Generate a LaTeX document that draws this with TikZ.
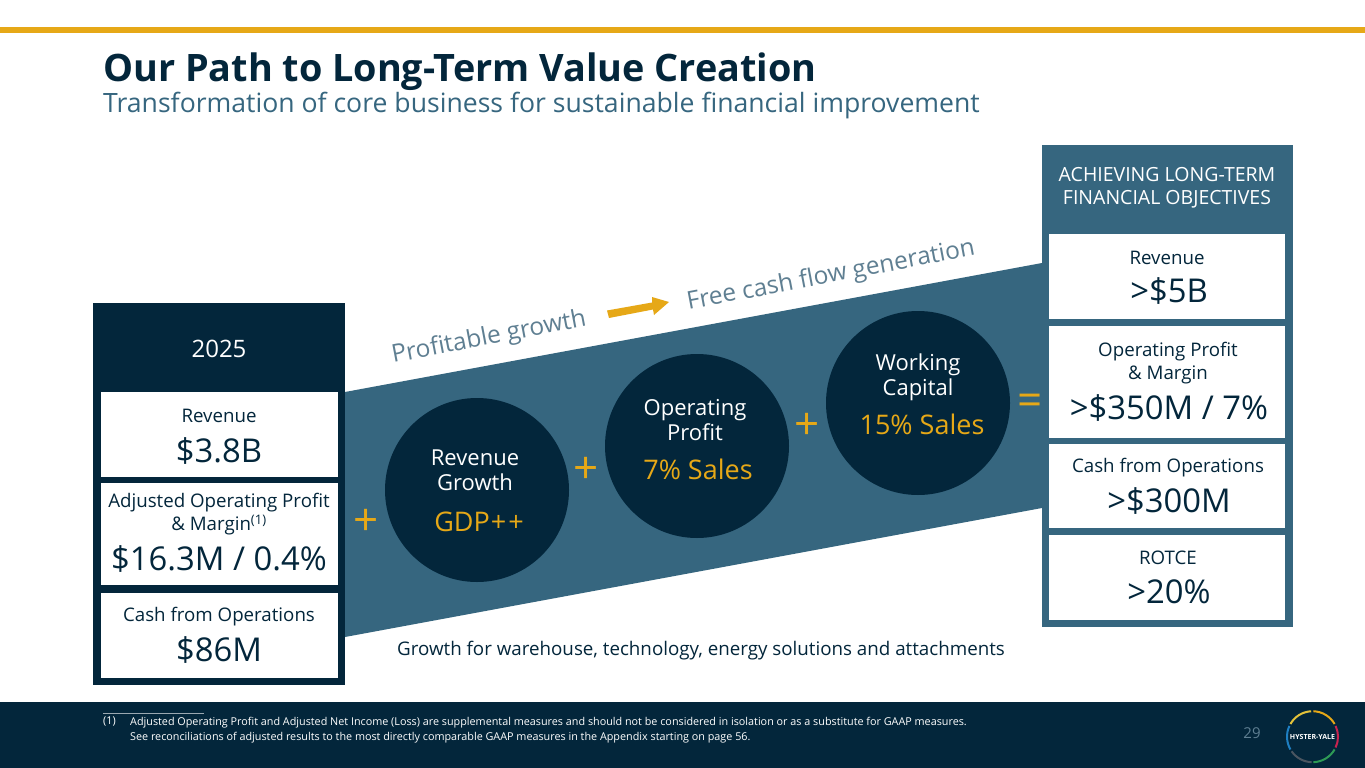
\documentclass[tikz,border=0pt]{standalone}
\usepackage{fontspec}
\setmainfont{Open Sans}
\definecolor{navy}{HTML}{03263B}
\definecolor{band}{HTML}{36667F}
\definecolor{gold}{HTML}{E6A817}
\definecolor{greytxt}{HTML}{5F7F92}
\newcommand{\fsz}[2]{\fontsize{#1}{#2}\selectfont}
\tikzset{
 lab/.style={text=navy,font=\fsz{18.7}{23},align=center,inner sep=0pt},
 val/.style={text=navy,font=\fsz{32.8}{36},inner sep=0pt},
 circ/.style={circle,fill=navy,minimum size=184pt,inner sep=0pt},
 clab/.style={text=white,font=\fsz{22}{25},align=center,inner sep=0pt},
 cval/.style={text=gold,font=\fsz{27}{30},inner sep=0pt},
 plus/.style={text=gold,font=\fsz{44}{46},inner sep=0pt},
 slant/.style={text=greytxt,font=\fsz{24.5}{27},inner sep=0pt,rotate=10.8},
 logoarc/.style={line width=2pt}
}
\begin{document}
\begin{tikzpicture}[x=1pt,y=-1pt]
\useasboundingbox (0,0) rectangle (1365,768);
\fill[white] (0,0) rectangle (1365,768);
\fill[gold] (0,27) rectangle (1365,33);
\node[anchor=west,text=navy,font=\fsz{37.8}{40}\bfseries,inner sep=0pt] (title) at (103,72) {Our Path to Long-Term Value Creation};
\node[anchor=west,text=band,font=\fsz{26.6}{30},inner sep=0pt] (sub) at (103,106) {Transformation of core business for sustainable financial improvement};
% band
\fill[band] (345,392) -- (1042,263) -- (1042,508) -- (345,637) -- cycle;
% left panel
\fill[navy] (93,303) rectangle (345,685);
\node[text=white,font=\fsz{24}{26},inner sep=0pt] (y2025) at (219,349) {2025};
\fill[white] (101,392) rectangle (338,477);
\fill[white] (101,483) rectangle (338,585);
\fill[white] (101,593) rectangle (338,678);
\node[lab] (l1a) at (219,416) {Revenue};
\node[val] (l1b) at (219,451) {\$3.8B};
\node[lab] (l2a) at (219,514) {Adjusted Operating Profit\\\& Margin\textsuperscript{(1)}};
\node[val] (l2b) at (219,559) {\$16.3M / 0.4\%};
\node[lab] (l3a) at (219,617) {Cash from Operations};
\node[val] (l3b) at (219,650) {\$86M};
% right panel
\fill[band] (1042,145) rectangle (1293,627);
\node[text=white,font=\fsz{19.5}{23},align=center,inner sep=0pt] (hdr) at (1167,188) {ACHIEVING LONG-TERM\\FINANCIAL OBJECTIVES};
\fill[white] (1049,234) rectangle (1285,319);
\fill[white] (1049,326) rectangle (1285,438);
\fill[white] (1049,444) rectangle (1285,528);
\fill[white] (1049,535) rectangle (1285,620);
\node[lab] (r1a) at (1167,258) {Revenue};
\node[val] (r1b) at (1169,291) {>\$5B};
\node[lab] (r2a) at (1168,363) {Operating Profit\\\& Margin};
\node[val] (r2b) at (1169,408) {>\$350M / 7\%};
\node[lab] (r3a) at (1168,468) {Cash from Operations};
\node[val] (r3b) at (1169,501) {>\$300M};
\node[lab] (r4a) at (1168,558) {ROTCE};
\node[val] (r4b) at (1169,592) {>20\%};
% circles
\node[circ] (c1) at (477,490) {};
\node[circ] (c2) at (697,446) {};
\node[circ] (c3) at (918,403) {};
\node[clab] (c1a) at (475,470) {Revenue\\Growth};
\node[cval] (c1b) at (479,522) {GDP{\kern1pt}+{\kern2pt}+};
\node[clab] (c2a) at (695,420) {Operating\\Profit};
\node[cval] (c2b) at (698,469) {7\% Sales};
\node[clab] (c3a) at (918,377) {Working\\Capital};
\node[cval] (c3b) at (922,424) {15\% Sales};
\node[plus] (p0) at (366,522) {+};
\node[plus] (p1) at (586,470) {+};
\node[plus] (p2) at (807,426) {+};
\node[plus] (eq) at (1030,405) {=};
% slanted
\node[slant] (s1) at (489,338) {Profitable growth};
\node[slant] (s2) at (831,276) {Free cash flow generation};
\fill[gold] (607,310.5) -- (652,302.5) -- (652,297) -- (669,302) -- (654,315) -- (653,309.5) -- (609,318) -- cycle;
\node[text=navy,font=\fsz{18.75}{21},inner sep=0pt] (grow) at (701,651) {Growth for warehouse, technology, energy solutions and attachments};
% footer
\fill[navy] (0,702) rectangle (1365,768);
\draw[white!60!navy,line width=0.5pt] (103,713) -- (204,713);
\node[anchor=north west,text=white,font=\fsz{10.8}{15},inner sep=0pt] (fn0) at (103,717) {(1)};
\node[anchor=north west,text=white,font=\fsz{10.8}{15},align=left,inner sep=0pt] (fn) at (130,717) {Adjusted Operating Profit and Adjusted Net Income (Loss) are supplemental measures and should not be considered in isolation or as a substitute for GAAP measures.\\See reconciliations of adjusted results to the most directly comparable GAAP measures in the Appendix starting on page 56.};
\node[text=greytxt,font=\fsz{15}{17},inner sep=0pt] (pg) at (1252,733) {29};
% logo
\coordinate (lg) at (1312.5,736.7);
\foreach \a/\b/\c in {-150/-93/{E3C23A},-88/-30/{E6A817},-25/25/{C8234F},30/88/{2E9A55},92/145/{4A5560},150/205/{1E7FC2}}{
  \definecolor{arccol}{HTML}{\c}
  \draw[logoarc,color=arccol] (lg) ++(\a:25.5) arc[start angle=\a,end angle=\b,radius=25.5];
}
\node[text=white,font=\fsz{7}{8}\bfseries,inner sep=0pt] (lt) at (lg) {HYSTER-YALE};
\end{tikzpicture}
\end{document}
